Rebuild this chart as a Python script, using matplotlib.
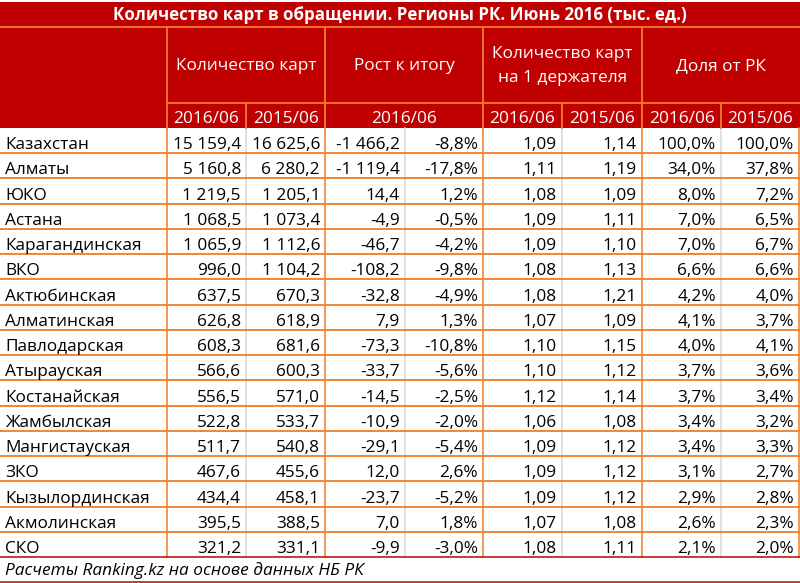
import matplotlib
matplotlib.use("Agg")
import matplotlib.pyplot as plt
from matplotlib.patches import Rectangle

title = "Количество карт в обращении. Регионы РК. Июнь 2016 (тыс. ед.)"
group_headers = ["Количество карт", "Рост к итогу", "Количество карт\nна 1 держателя", "Доля от РК"]
sub_headers = ["2016/06", "2015/06", "2016/06", "2016/06", "2015/06", "2016/06", "2015/06"]
footer = "Расчеты Ranking.kz на основе данных НБ РК"

regions = ["Казахстан", "Алматы", "ЮКО", "Астана", "Карагандинская", "ВКО", "Актюбинская",
           "Алматинская", "Павлодарская", "Атырауская", "Костанайская", "Жамбылская",
           "Мангистауская", "ЗКО", "Кызылординская", "Акмолинская", "СКО"]
cards_2016 = [15159.4, 5160.8, 1219.5, 1068.5, 1065.9, 996.0, 637.5, 626.8, 608.3, 566.6,
              556.5, 522.8, 511.7, 467.6, 434.4, 395.5, 321.2]
cards_2015 = [16625.6, 6280.2, 1205.1, 1073.4, 1112.6, 1104.2, 670.3, 618.9, 681.6, 600.3,
              571.0, 533.7, 540.8, 455.6, 458.1, 388.5, 331.1]
growth_abs = [-1466.2, -1119.4, 14.4, -4.9, -46.7, -108.2, -32.8, 7.9, -73.3, -33.7,
              -14.5, -10.9, -29.1, 12.0, -23.7, 7.0, -9.9]
growth_pct = [-8.8, -17.8, 1.2, -0.5, -4.2, -9.8, -4.9, 1.3, -10.8, -5.6,
              -2.5, -2.0, -5.4, 2.6, -5.2, 1.8, -3.0]
per_holder_2016 = [1.09, 1.11, 1.08, 1.09, 1.09, 1.08, 1.08, 1.07, 1.10, 1.10,
                   1.12, 1.06, 1.09, 1.09, 1.09, 1.07, 1.08]
per_holder_2015 = [1.14, 1.19, 1.09, 1.11, 1.10, 1.13, 1.21, 1.09, 1.15, 1.12,
                   1.14, 1.08, 1.12, 1.12, 1.12, 1.08, 1.11]
share_2016 = [100.0, 34.0, 8.0, 7.0, 7.0, 6.6, 4.2, 4.1, 4.0, 3.7, 3.7, 3.4, 3.4, 3.1, 2.9, 2.6, 2.1]
share_2015 = [100.0, 37.8, 7.2, 6.5, 6.7, 6.6, 4.0, 3.7, 4.1, 3.6, 3.4, 3.2, 3.3, 2.7, 2.8, 2.3, 2.0]


def fmt(v, d=1, pct=False):
    s = f"{abs(v):,.{d}f}".replace(",", " ").replace(".", ",")
    if v < 0:
        s = "-" + s
    return s + ("%" if pct else "")


RED = "#C00000"
ORANGE = "#F07C28"
GRAY = "#D9D9D9"
FONT = ["Open Sans", "DejaVu Sans"]
FS = 12.4

W, H = 800, 583
fig = plt.figure(figsize=(8.0, 5.83), dpi=100)
ax = fig.add_axes([0, 0, 1, 1])
ax.set_xlim(0, W)
ax.set_ylim(H, 0)
ax.axis("off")

cols = [0, 167, 246, 325, 405, 483, 562, 642, 721, 799]
y_title0, y_title1 = 2, 27
y_h1 = 103
y_h2 = 128
n = len(regions)
y_end = 557
rh = (y_end - y_h2) / n
y_foot = 582

# header background
ax.add_patch(Rectangle((0, y_title0), W, y_h2 - y_title0, facecolor=RED, edgecolor="none"))
ax.text(W / 2, y_title1 - 7, title, color="white", fontsize=12.2,
        fontweight="bold", ha="center", va="baseline", family=FONT)

# header lines
ax.plot([0, W], [y_title1, y_title1], color=ORANGE, lw=1.3)
ax.plot([cols[1], W], [y_h1, y_h1], color=ORANGE, lw=1.3)
for i, x in enumerate(cols[1:-1], start=1):
    if i in (1, 3, 5, 7):
        ax.plot([x, x], [y_title1, y_h2], color=ORANGE, lw=1.3)
    elif i in (2, 6, 8):
        ax.plot([x, x], [y_h1, y_h2], color=ORANGE, lw=1.3)

gspans = [(cols[1], cols[3]), (cols[3], cols[5]), (cols[5], cols[7]), (cols[7], cols[9])]
for (a, b), t in zip(gspans, group_headers):
    ax.text((a + b) / 2, (y_title1 + y_h1) / 2 + 1, t, color="white", fontsize=FS,
            ha="center", va="center", family=FONT, linespacing=1.65)

sub_spans = [(cols[1], cols[2]), (cols[2], cols[3]), (cols[3], cols[5]), (cols[5], cols[6]),
             (cols[6], cols[7]), (cols[7], cols[8]), (cols[8], cols[9])]
for (a, b), t in zip(sub_spans, sub_headers):
    ax.text((a + b) / 2, y_h2 - 5, t, color="white", fontsize=FS,
            ha="center", va="baseline", family=FONT)

# data rows
for r in range(n):
    y0 = y_h2 + r * rh
    yb = y0 + rh - 4
    vals = [fmt(cards_2016[r]), fmt(cards_2015[r]), fmt(growth_abs[r]), fmt(growth_pct[r], pct=True),
            fmt(per_holder_2016[r], 2), fmt(per_holder_2015[r], 2),
            fmt(share_2016[r], pct=True), fmt(share_2015[r], pct=True)]
    ax.text(5, yb, regions[r], fontsize=FS, ha="left", va="baseline", family=FONT, color="black")
    for c, v in enumerate(vals):
        ax.text(cols[c + 2] - 5, yb, v, fontsize=FS, ha="right", va="baseline", family=FONT, color="black")
    if r > 0:
        ax.plot([0, W], [y0, y0], color=ORANGE, lw=1.3)

# vertical lines in data area
for i, x in enumerate(cols[1:-1], start=1):
    color = ORANGE if i % 2 == 1 else GRAY
    ax.plot([x, x], [y_h2, y_end], color=color, lw=1.1, zorder=1 if color == GRAY else 2)
ax.plot([W - 1, W - 1], [y_h2, y_end], color=ORANGE, lw=1.1)

# footer
ax.plot([0, W], [y_end, y_end], color=RED, lw=1.1)
ax.plot([0, W], [y_foot, y_foot], color=RED, lw=1.1)
ax.text(5, y_foot - 7, footer, fontsize=FS, style="italic", ha="left",
        va="baseline", family=FONT, color="black")

fig.savefig("out.png", dpi=100)
